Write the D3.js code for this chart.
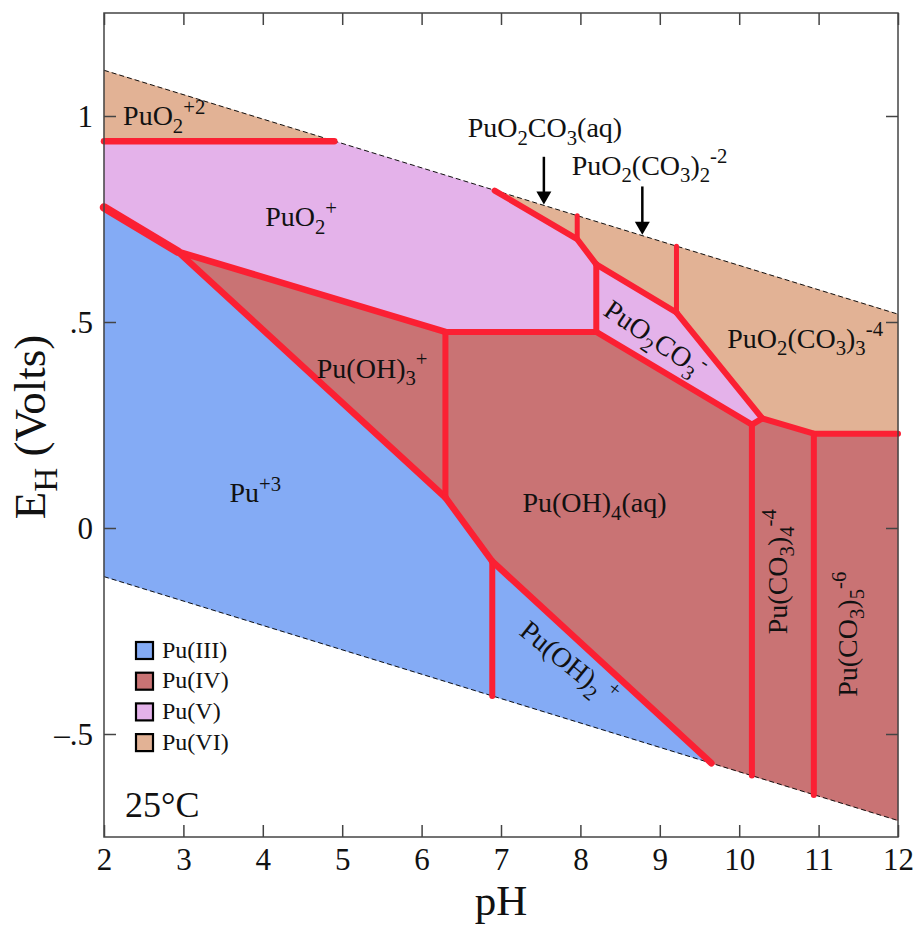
<!DOCTYPE html>
<html>
<head>
<meta charset="utf-8">
<script src="https://cdn.jsdelivr.net/npm/d3@7"></script>
<style>
  body { margin: 0; background: #fff; }
  svg { display: block; }
  text { font-family: "Liberation Serif", "Times New Roman", serif; fill: #111; }
</style>
</head>
<body>
<svg id="chart" width="915" height="927"></svg>
<script>
// Eh–pH (Pourbaix) diagram for plutonium at 25 °C, points given as [pH, Eh (V)]

const pHTicks = [2, 3, 4, 5, 6, 7, 8, 9, 10, 11, 12];
const ehTicks = [-0.5, 0, 0.5, 1];
const ehTickLabels = ["–.5", "0", ".5", "1"];

// water stability limits
const waterUpper = [[2, 1.111], [12, 0.519]];
const waterLower = [[2, -0.118], [12, -0.710]];

// predominance fields, grouped by oxidation state
const fieldPuVI_a = [[2, 1.111], [4.90, 0.939], [2, 0.939]];
const fieldPuVI_b = [[6.92, 0.819], [12, 0.519], [12, 0.229], [10.94, 0.229], [10.29, 0.266],
                     [9.21, 0.523], [8.20, 0.640], [7.96, 0.701]];
const fieldPuV_a = [[2, 0.939], [4.90, 0.939], [6.92, 0.819], [7.96, 0.701], [8.20, 0.640],
                    [8.20, 0.476], [6.30, 0.476], [2.93, 0.671], [2, 0.778]];
const fieldPuV_b = [[8.20, 0.640], [9.21, 0.523], [10.29, 0.266], [10.16, 0.251], [8.20, 0.476]];
const fieldPuIV = [[2.93, 0.671], [6.30, 0.476], [8.20, 0.476], [10.16, 0.251], [10.29, 0.266],
                   [10.94, 0.229], [12, 0.229], [12, -0.710], [9.65, -0.571], [6.89, -0.081], [6.30, 0.074]];
const fieldPuIII = [[2, 0.778], [2.93, 0.671], [6.30, 0.074], [6.89, -0.081], [9.65, -0.571], [2, -0.118]];

// species boundaries
const boundaries = [
  { pts: [[2, 0.939], [4.90, 0.939]], w: 6.5 },
  { pts: [[2, 0.778], [2.93, 0.671]], w: 8.5 },
  { pts: [[2.93, 0.671], [6.30, 0.476]], w: 6.5 },
  { pts: [[2.93, 0.671], [6.30, 0.074]], w: 6.5 },
  { pts: [[6.30, 0.476], [6.30, 0.074]], w: 6 },
  { pts: [[6.30, 0.074], [6.89, -0.081]], w: 6.5 },
  { pts: [[6.89, -0.081], [6.89, -0.408]], w: 6 },
  { pts: [[6.89, -0.081], [9.65, -0.571]], w: 6.5 },
  { pts: [[6.30, 0.476], [8.20, 0.476]], w: 6 },
  { pts: [[6.92, 0.819], [7.96, 0.701], [8.20, 0.640]], w: 6 },
  { pts: [[7.96, 0.701], [7.96, 0.758]], w: 5 },
  { pts: [[8.20, 0.476], [8.20, 0.640]], w: 6 },
  { pts: [[8.20, 0.640], [9.21, 0.523]], w: 6 },
  { pts: [[9.21, 0.523], [9.21, 0.684]], w: 5 },
  { pts: [[9.21, 0.523], [10.29, 0.266]], w: 6 },
  { pts: [[8.20, 0.476], [10.16, 0.251]], w: 6 },
  { pts: [[10.16, 0.251], [10.29, 0.266]], w: 6 },
  { pts: [[10.29, 0.266], [10.94, 0.229], [12, 0.229]], w: 6 },
  { pts: [[10.16, 0.251], [10.16, -0.601]], w: 6 },
  { pts: [[10.94, 0.229], [10.94, -0.648]], w: 6 }
];

// species labels: anchor point [pH, Eh], rotation, text parts
const speciesLabels = [
  { at: [2.24, 0.977], rot: 0, anchor: "start", parts: ["PuO", "_2", "^+2"] },
  { at: [4.03, 0.732], rot: 0, anchor: "start", parts: ["PuO", "_2", "^+"] },
  { at: [6.58, 0.948], rot: 0, anchor: "start", parts: ["PuO", "_2", "CO", "_3", "(aq)"] },
  { at: [7.89, 0.858], rot: 0, anchor: "start", parts: ["PuO", "_2", "(CO", "_3", ")", "_2", "^-2"] },
  { at: [9.85, 0.438], rot: 0, anchor: "start", parts: ["PuO", "_2", "(CO", "_3", ")", "_3", "^-4"] },
  { at: [4.68, 0.365], rot: 0, anchor: "start", parts: ["Pu(OH)", "_3", "^+"] },
  { at: [3.58, 0.062], rot: 0, anchor: "start", parts: ["Pu", "^+3"] },
  { at: [7.27, 0.038], rot: 0, anchor: "start", parts: ["Pu(OH)", "_4", "(aq)"] },
  { at: [8.88, 0.440], rot: 34, anchor: "middle", parts: ["PuO", "_2", "CO", "_3", "^-"] },
  { at: [7.78, -0.345], rot: 39, anchor: "middle", parts: ["Pu(OH)", "_2", "^ +"] },
  { at: [10.60, -0.106], rot: -90, anchor: "middle", parts: ["Pu(CO", "_3", ")", "_4", "^-4"] },
  { at: [11.48, -0.258], rot: -90, anchor: "middle", parts: ["Pu(CO", "_3", ")", "_5", "^-6"] }
];

// arrows pointing to thin fields along the upper water limit: [pH, Eh top, Eh tip]
const arrows = [[7.54, 0.901, 0.785], [8.78, 0.829, 0.712]];

const legendNames = ["Pu(III)", "Pu(IV)", "Pu(V)", "Pu(VI)"];
const legendColors = ["#84abf5", "#c97374", "#e4b2ea", "#e2b295"];

const width = 915, height = 927;
const margin = { left: 104, right: 17, top: 13, bottom: 90 };

const x = d3.scaleLinear().domain([2, 12]).range([margin.left, width - margin.right]);
const y = d3.scaleLinear().domain([-0.75, 1.25]).range([height - margin.bottom, margin.top]);

const svg = d3.select("#chart");
const line = d3.line().x(d => x(d[0])).y(d => y(d[1]));
const poly = pts => line(pts) + "Z";

// fields
const fields = [
  [fieldPuIII, legendColors[0]],
  [fieldPuIV, legendColors[1]],
  [fieldPuV_a, legendColors[2]],
  [fieldPuV_b, legendColors[2]],
  [fieldPuVI_a, legendColors[3]],
  [fieldPuVI_b, legendColors[3]]
];
svg.append("g").selectAll("path").data(fields).join("path")
  .attr("d", d => poly(d[0]))
  .attr("fill", d => d[1])
  .attr("stroke", d => d[1])
  .attr("stroke-width", 0.6);

// water limits
svg.append("g").selectAll("path").data([waterUpper, waterLower]).join("path")
  .attr("d", line)
  .attr("fill", "none")
  .attr("stroke", "#111")
  .attr("stroke-width", 1)
  .attr("stroke-dasharray", "5,3");

// boundaries
svg.append("g").selectAll("path").data(boundaries).join("path")
  .attr("d", d => line(d.pts))
  .attr("fill", "none")
  .attr("stroke", "#fb2033")
  .attr("stroke-width", d => d.w)
  .attr("stroke-linecap", "round")
  .attr("stroke-linejoin", "round");

// axes with inward ticks on all four sides
const tickLen = 12;
const axB = svg.append("g").attr("transform", `translate(0,${y(-0.75)})`)
  .call(d3.axisBottom(x).tickValues(pHTicks).tickSize(-tickLen).tickPadding(10).tickFormat(d3.format("d")));
const axT = svg.append("g").attr("transform", `translate(0,${y(1.25)})`)
  .call(d3.axisTop(x).tickValues(pHTicks).tickSize(-tickLen).tickFormat(""));
const axL = svg.append("g").attr("transform", `translate(${x(2)},0)`)
  .call(d3.axisLeft(y).tickValues(ehTicks).tickSize(-tickLen).tickPadding(11)
    .tickFormat((d, i) => ehTickLabels[i]));
const axR = svg.append("g").attr("transform", `translate(${x(12)},0)`)
  .call(d3.axisRight(y).tickValues(ehTicks).tickSize(-tickLen).tickFormat(""));

[axB, axT, axL, axR].forEach(g => {
  g.attr("font-family", null).attr("font-size", null);
  g.select(".domain").remove();
  g.selectAll(".tick line").attr("stroke", "#444").attr("stroke-width", 1.5);
  g.selectAll("text").attr("fill", "#111").attr("font-size", 31);
});
axB.selectAll(".tick text").attr("dy", null).attr("y", 33);
axL.selectAll(".tick text").attr("dy", "0.34em").attr("x", -11);

// frame
svg.append("rect")
  .attr("x", x(2)).attr("y", y(1.25))
  .attr("width", x(12) - x(2)).attr("height", y(-0.75) - y(1.25))
  .attr("fill", "none").attr("stroke", "#444").attr("stroke-width", 1.5);

// rich text with sub/superscripts
function rich(sel, parts, size) {
  let cur = 0;
  parts.forEach(p => {
    const type = p[0] === "_" ? "sub" : p[0] === "^" ? "sup" : "n";
    const t = type === "n" ? p : p.slice(1);
    const shift = type === "sub" ? 0.27 * size : type === "sup" ? -0.4 * size : 0;
    sel.append("tspan")
      .attr("font-size", type === "n" ? size : size * 0.74)
      .attr("dy", shift - cur)
      .text(t);
    cur = shift;
  });
}

// species labels
speciesLabels.forEach(l => {
  const t = svg.append("text")
    .attr("text-anchor", l.anchor)
    .attr("transform", `translate(${x(l.at[0])},${y(l.at[1])}) rotate(${l.rot})`)
    .attr("font-size", 28);
  rich(t, l.parts, 28);
});

// arrows
const arr = svg.append("g");
arrows.forEach(a => {
  const ax = x(a[0]), y0 = y(a[1]), tip = y(a[2]);
  arr.append("line").attr("x1", ax).attr("x2", ax).attr("y1", y0).attr("y2", tip - 10)
    .attr("stroke", "#000").attr("stroke-width", 2.5);
  arr.append("path")
    .attr("d", `M${ax - 7.5},${tip - 13}L${ax + 7.5},${tip - 13}L${ax},${tip}Z`)
    .attr("fill", "#000");
});

// legend
const leg = svg.append("g").attr("transform", "translate(136,642)");
legendNames.forEach((n, i) => {
  const gy = i * 30.7;
  leg.append("rect").attr("x", 0).attr("y", gy).attr("width", 17).attr("height", 17)
    .attr("fill", legendColors[i]).attr("stroke", "#000").attr("stroke-width", 2.2);
  leg.append("text").attr("x", 26).attr("y", gy + 15.5).attr("font-size", 24).text(n);
});

// temperature
svg.append("text").attr("x", 125).attr("y", 817).attr("font-size", 36).text("25°C");

// axis titles
svg.append("text").attr("x", (x(2) + x(12)) / 2).attr("y", 915)
  .attr("text-anchor", "middle").attr("font-size", 43).text("pH");
const yt = svg.append("text").attr("text-anchor", "middle")
  .attr("transform", `translate(45,${y(0.245)}) rotate(-90)`).attr("font-size", 45);
rich(yt, ["E", "_H", " (Volts)"], 45);
</script>
</body>
</html>
